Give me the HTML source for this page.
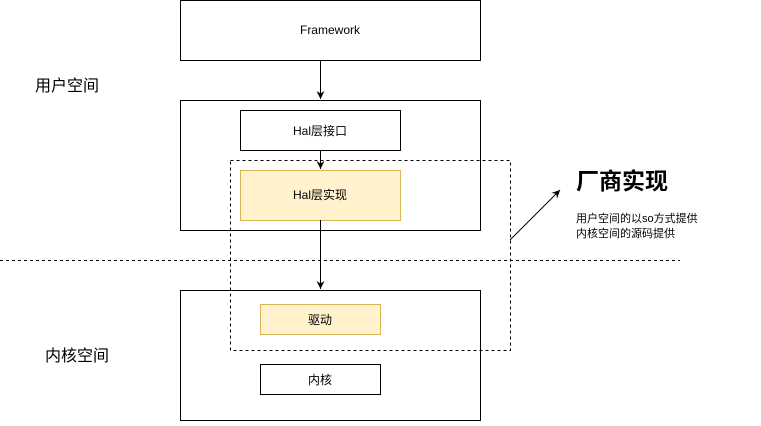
<!DOCTYPE html>
<html><head><meta charset="utf-8"><style>body{margin:0;background:#fff}</style></head><body>
<svg width="761" height="421" xmlns="http://www.w3.org/2000/svg" font-family="Liberation Sans, Noto Sans CJK SC, sans-serif">
<defs><marker id="a" markerWidth="10" markerHeight="10" refX="8" refY="4.5" orient="auto" markerUnits="userSpaceOnUse"><path d="M0,0.5 L8,4.5 L0,8.5 L2.5,4.5 Z" fill="#000"/></marker></defs>
<rect x="180.5" y="0.5" width="300" height="60" fill="#fff" stroke="#000"/>
<text x="330" y="34" font-size="12" text-anchor="middle">Framework</text>
<rect x="180.5" y="100.5" width="300" height="130" fill="#fff" stroke="#000"/>
<rect x="240.5" y="110.5" width="160" height="40" fill="#fff" stroke="#000"/>
<text x="320" y="135" font-size="12" text-anchor="middle">Hal层接口</text>
<rect x="240.5" y="170.5" width="160" height="50" fill="#fff2cc" stroke="#d6b656"/>
<text x="320" y="199" font-size="12" text-anchor="middle">Hal层实现</text>
<line x1="0" y1="260.5" x2="680" y2="260.5" stroke="#000" stroke-dasharray="3,3"/>
<rect x="180.5" y="290.5" width="300" height="130" fill="#fff" stroke="#000"/>
<rect x="260.5" y="304.5" width="120" height="30" fill="#fff2cc" stroke="#d6b656"/>
<text x="320" y="324" font-size="12" text-anchor="middle">驱动</text>
<rect x="260.5" y="364.5" width="120" height="30" fill="#fff" stroke="#000"/>
<text x="320" y="384" font-size="12" text-anchor="middle">内核</text>
<rect x="230.5" y="160.5" width="280" height="190" fill="none" stroke="#000" stroke-dasharray="3,3"/>
<line x1="320.5" y1="60" x2="320.5" y2="99" stroke="#000" marker-end="url(#a)"/>
<line x1="320.5" y1="150" x2="320.5" y2="169" stroke="#000" marker-end="url(#a)"/>
<line x1="320.5" y1="220" x2="320.5" y2="289" stroke="#000" marker-end="url(#a)"/>
<line x1="510" y1="240" x2="560" y2="190" stroke="#000" marker-end="url(#a)"/>
<text x="576" y="189" font-size="23" font-weight="bold">厂商实现</text>
<text x="576" y="222" font-size="11">用户空间的以so方式提供</text>
<text x="576" y="237" font-size="11">内核空间的源码提供</text>
<text x="35" y="91" font-size="16">用户空间</text>
<text x="45" y="361" font-size="16">内核空间</text>
</svg>
</body></html>
